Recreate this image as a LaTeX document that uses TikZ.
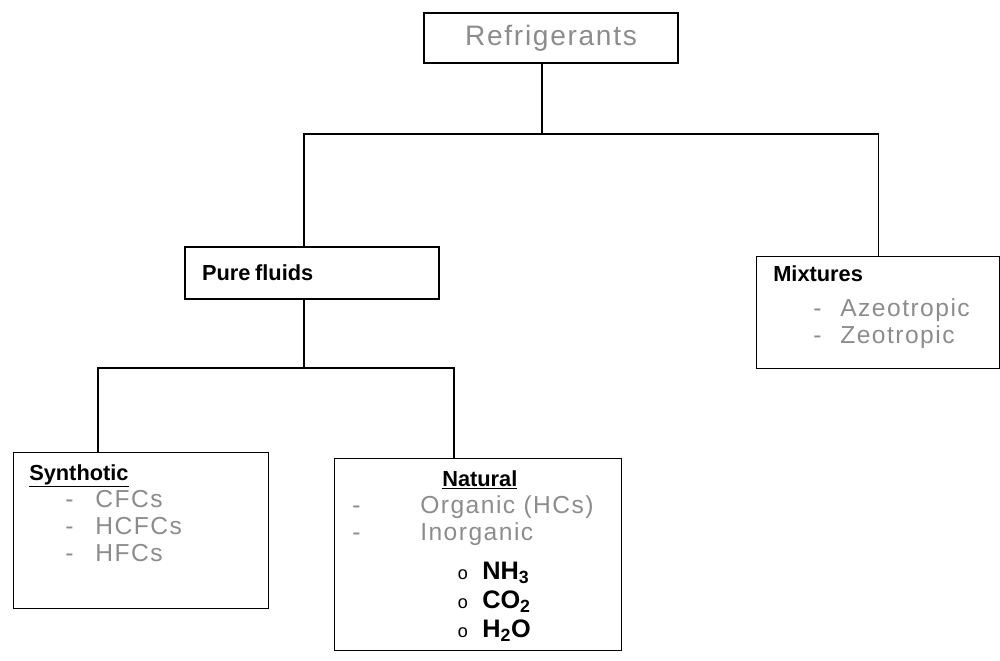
\documentclass[tikz,border=0pt]{standalone}
\usepackage{fontspec}
\setmainfont{Liberation Sans}
\setmonofont{Liberation Mono}
\newfontfamily\widefont[LetterSpace=6]{Liberation Sans}
\usepackage{xcolor}
\usepackage{tikz}
\usetikzlibrary{positioning}
\definecolor{scanGrey}{gray}{0.55}
\newcommand{\hd}[1]{{\fontsize{15.5}{19}\selectfont\bfseries #1}}
\newcommand{\gr}[1]{{\widefont\color{scanGrey}#1}}
\newcommand{\chem}[1]{{\fontsize{18}{19}\selectfont\bfseries #1}}
\newcommand{\bul}{\makebox[0.625cm][l]{\fontsize{13}{19}\ttfamily o}}
\tikzset{
  frame/.style={draw,line width=0.8pt,inner sep=0pt},
  list/.style={align=left,inner sep=0pt,font=\fontsize{17.5}{19.2}\selectfont},
  link/.style={line width=0.8pt},
}

\begin{document}
\begin{tikzpicture}
\useasboundingbox (0,0) rectangle (25,-16.5);
% boxes
\node[frame, minimum width=6.35cm, minimum height=1.25cm, font=\fontsize{20}{22}\selectfont] (ref) at (13.775,-0.95) {\gr{Refrigerants}};
\node[frame, minimum width=6.35cm, minimum height=1.3cm, text width=5.5cm, inner xsep=0.425cm, align=left] (pure) at (7.8,-6.825) {\hd{Pure fluids}};
\node[frame, minimum width=6.075cm, minimum height=2.8cm, anchor=north west] (mix) at (18.9,-6.4) {};
\node[frame, minimum width=6.375cm, minimum height=3.9cm, anchor=north west] (synth) at (0.325,-11.3) {};
\node[frame, minimum width=7.175cm, minimum height=4.8cm, anchor=north west] (nat) at (8.35,-11.45) {};
% box texts
\node[list, below right=0.225cm and 0.425cm of mix.north west] (mixtxt) {\hd{Mixtures}\\[0.2cm]
  \hspace*{1cm}\makebox[0.675cm][l]{\gr{-}}\gr{Azeotropic}\\
  \hspace*{1cm}\makebox[0.675cm][l]{\gr{-}}\gr{Zeotropic}};
\node[list, below right=0.3cm and 0.4cm of synth.north west] (synthtxt) {\hd{\underline{Synthotic}}\\
  \hspace*{0.9cm}\makebox[0.75cm][l]{\gr{-}}\gr{CFCs}\\
  \hspace*{0.9cm}\makebox[0.75cm][l]{\gr{-}}\gr{HCFCs}\\
  \hspace*{0.9cm}\makebox[0.75cm][l]{\gr{-}}\gr{HFCs}};
\node[list, below right=0.3cm and 0.45cm of nat.north west] (nattxt) {\hspace*{2.25cm}\hd{\underline{Natural}}\\
  \makebox[1.7cm][l]{\gr{-}}\gr{Organic (HCs)}\\
  \makebox[1.7cm][l]{\gr{-}}\gr{Inorganic}\\[0.3cm]
  \hspace*{2.625cm}\bul\chem{NH\textsubscript{3}}\\[0.05cm]
  \hspace*{2.625cm}\bul\chem{CO\textsubscript{2}}\\[0.05cm]
  \hspace*{2.625cm}\bul\chem{H\textsubscript{2}O}};
% tree lines
\coordinate (r1) at (13.55,-3.35);
\coordinate (p1) at (7.6,-9.2);
\coordinate (s1) at (2.45,-9.2);
\coordinate (n1) at (11.35,-9.2);
\draw[link] (ref.south -| r1) -- (r1);
\draw[link] (pure.north -| p1) -- (p1 |- r1) -- (r1 -| mix.north) -- (mix.north);
\draw[link] (pure.south -| p1) -- (p1);
\draw[link] (synth.north -| s1) -- (s1) -- (n1) -- (nat.north -| n1);
\end{tikzpicture}
\end{document}
